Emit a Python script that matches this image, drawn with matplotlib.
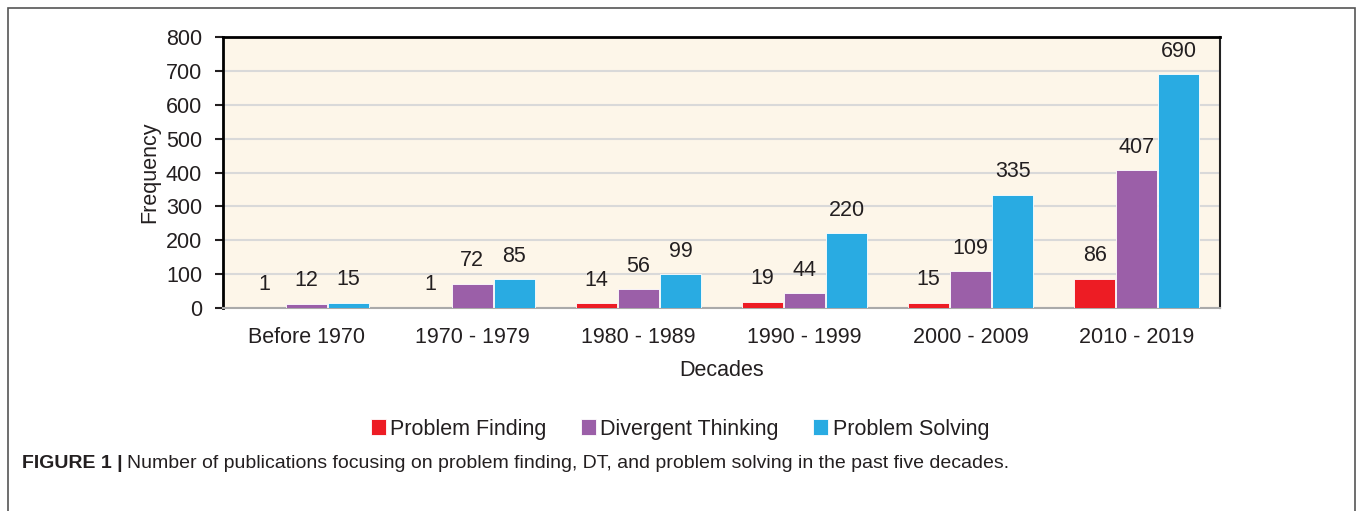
import matplotlib
matplotlib.use("Agg")
import matplotlib.pyplot as plt
from matplotlib.patches import Rectangle
import numpy as np

plt.rcParams['font.family'] = ['Liberation Sans', 'DejaVu Sans']

categories = ["Before 1970", "1970 - 1979", "1980 - 1989", "1990 - 1999", "2000 - 2009", "2010 - 2019"]
series_names = ["Problem Finding", "Divergent Thinking", "Problem Solving"]
problem_finding = [1, 1, 14, 19, 15, 86]
divergent_thinking = [12, 72, 56, 44, 109, 407]
problem_solving = [15, 85, 99, 220, 335, 690]
colors = ["#ED1C24", "#9B5FA8", "#29ABE2"]
y_ticks = [0, 100, 200, 300, 400, 500, 600, 700, 800]

txt = "#231F20"
fig = plt.figure(figsize=(13.57, 5.11), dpi=100)
ax = fig.add_axes([223/1357, 1-308/511, (1220-223)/1357, (308-37)/511])
ax.set_facecolor("#FDF6E9")

x = np.arange(len(categories))
w = 0.247
off = 0.253
data = [problem_finding, divergent_thinking, problem_solving]
for i, (vals, name, c) in enumerate(zip(data, series_names, colors)):
    pos = x + (i - 1) * off
    ax.bar(pos, vals, width=w, color=c, label=name, edgecolor="white", linewidth=0.6, zorder=3)
    for xb, v in zip(pos, vals):
        ax.annotate(str(v), (xb, v), xytext=(0, 9), textcoords="offset points",
                    ha="center", va="bottom", fontsize=15.5, color=txt)

ax.set_xlim(-0.5, len(categories) - 0.5)
ax.set_ylim(0, 800)
ax.set_yticks(y_ticks)
ax.set_xticks(x)
ax.set_xticklabels(categories)
ax.tick_params(axis="y", labelsize=15.5, colors=txt, length=6, width=1.5, direction="out", pad=9)
ax.tick_params(axis="x", labelsize=15.5, colors=txt, length=0, pad=14)
ax.yaxis.grid(True, color="#D9D9D9", linewidth=1.5, zorder=0)
ax.set_axisbelow(True)
for s in ["left", "top"]:
    ax.spines[s].set_linewidth(2)
    ax.spines[s].set_color("black")
ax.spines["right"].set_linewidth(1.5)
ax.spines["right"].set_color("#222222")
ax.spines["bottom"].set_linewidth(1.5)
ax.spines["bottom"].set_color("#AAAAAA")
ax.set_ylabel("Frequency", fontsize=15.5, color=txt, labelpad=4)
ax.set_xlabel("Decades", fontsize=15.5, color=txt, labelpad=8)

leg = fig.legend(loc="center", bbox_to_anchor=(680/1357, 1-429/511), ncol=3, frameon=False,
                 fontsize=15.5, handlelength=0.7, handleheight=0.7, handletextpad=0.2,
                 columnspacing=1.6)
for t in leg.get_texts():
    t.set_color(txt)

# outer frame
fig.patches.append(Rectangle((8/1357, -0.02), (1355-8)/1357, 1.02 - 8/511, transform=fig.transFigure,
                             fill=False, edgecolor="#555555", linewidth=1.2))

# caption
t1 = fig.text(22/1357, 1-463/511, "FIGURE 1 |", fontsize=14, fontweight="bold", color=txt, va="center", ha="left")
fig.canvas.draw()
r = fig.canvas.get_renderer()
bb = t1.get_window_extent(renderer=r)
fig.text((bb.x1 + 4)/1357, 1-463/511,
         "Number of publications focusing on problem finding, DT, and problem solving in the past five decades.",
         fontsize=14, color=txt, va="center", ha="left")

fig.savefig("out.png", dpi=100)
